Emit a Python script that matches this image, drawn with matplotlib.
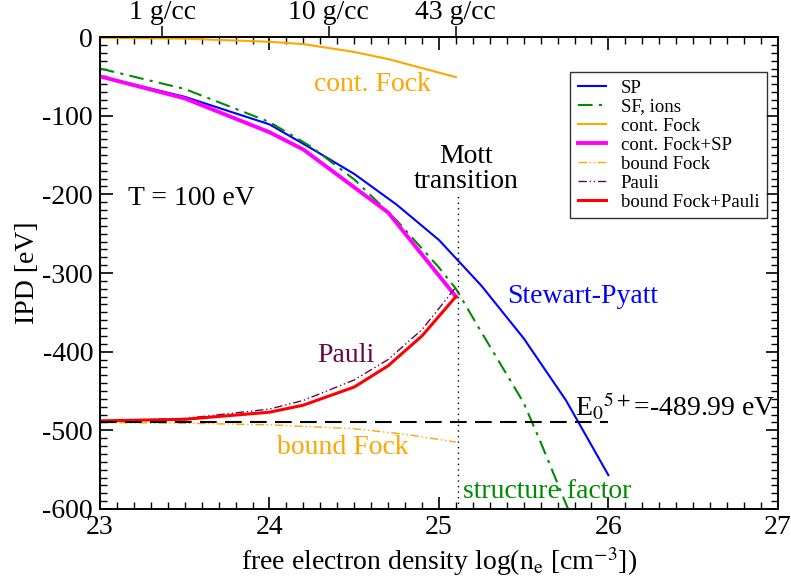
import matplotlib
matplotlib.use("Agg")
import matplotlib.pyplot as plt
from matplotlib.ticker import MultipleLocator, NullLocator

plt.rcParams['font.family'] = ['Liberation Serif', 'DejaVu Serif']
plt.rcParams['mathtext.fontset'] = 'stix'
plt.rcParams['axes.unicode_minus'] = False

# --- data ---
sp_x = [23.0, 23.5, 24.0, 24.25, 24.5, 24.75, 25.0, 25.25, 25.5, 25.75, 26.0]
sp_y = [-50, -76, -111, -142, -174, -213, -258, -316, -383, -462, -557]

sf_x = [23.0, 23.5, 24.0, 24.25, 24.5, 24.75, 25.0, 25.1, 25.25, 25.5, 25.6, 25.8]
sf_y = [-40, -66, -108, -140, -181, -233, -293, -320, -375, -465, -515, -620]

cf_x = [23.0, 23.5, 24.0, 24.2, 24.5, 24.7, 25.1]
cf_y = [-1, -2, -6, -9, -19, -28, -51]

cfsp_x = [23.0, 23.5, 24.0, 24.2, 24.7, 25.1]
cfsp_y = [-50, -78, -121, -143, -223, -330]

bf_x = [23.0, 23.5, 24.0, 24.5, 24.8, 25.1]
bf_y = [-490, -491, -493, -498, -505, -515]

pauli_x = [23.0, 23.5, 24.0, 24.2, 24.5, 24.7, 24.9, 25.1]
pauli_y = [-488, -485, -473, -462, -436, -410, -372, -318]

bfp_x = [23.0, 23.5, 24.0, 24.2, 24.5, 24.7, 24.9, 25.1]
bfp_y = [-488, -486, -477, -468, -445, -418, -380, -330]

E0 = -489.99
mott_x = 25.11

dens_pos = [23.366, 24.35, 25.10]
dens_labels = ['1 g/cc', '10 g/cc', '43 g/cc']

green = '#008b00'
orange = '#ffa500'
maroon = '#670748'

fig = plt.figure(figsize=(7.91, 5.88), dpi=100)
ax = fig.add_axes([0.1264, 0.1344, 0.857, 0.8026])

ax.plot(sp_x, sp_y, color='#0000ff', lw=1.5, label='SP')
ax.plot(sf_x, sf_y, color=green, lw=1.5, dashes=[7, 3, 1.5, 3], label='SF, ions')
ax.plot(cf_x, cf_y, color=orange, lw=1.5, label='cont. Fock')
ax.plot(cfsp_x, cfsp_y, color='#ff00ff', lw=2.8, label='cont. Fock+SP')
ax.plot(bf_x, bf_y, color=orange, lw=1.0, dashes=[6, 2, 1, 2, 1, 2], label='bound Fock')
ax.plot(pauli_x, pauli_y, color=maroon, lw=1.0, dashes=[6, 2, 1, 2, 1, 2], label='Pauli')
ax.plot(bfp_x, bfp_y, color='#ff0000', lw=2.2, label='bound Fock+Pauli')

ax.plot([23.0, 26.0], [E0, E0], color='black', lw=1.5, dashes=[8, 4])
ax.plot([mott_x, mott_x], [-600, -200], color='black', lw=1.0, dashes=[1, 3])

ax.set_xlim(23, 27)
ax.set_ylim(-600, 0)
ax.set_xlabel('free electron density log(n$_\\mathrm{e}$ [cm$^{-3}$])', fontsize=20, labelpad=4)
ax.set_ylabel('IPD [eV]', fontsize=20, labelpad=2)

# top density axis (twiny resets the top ticks of ax, so style ax afterwards)
top = ax.twiny()
top.set_xlim(ax.get_xlim())
top.set_xticks(dens_pos)
top.set_xticklabels(dens_labels)
top.xaxis.set_minor_locator(NullLocator())
top.tick_params(axis='x', which='major', direction='out', length=8, width=1.1,
                labelsize=20, pad=1, top=True, bottom=False)
for s in top.spines.values():
    s.set_linewidth(1.2)

ax.xaxis.set_major_locator(MultipleLocator(1))
ax.xaxis.set_minor_locator(MultipleLocator(0.1))
ax.yaxis.set_major_locator(MultipleLocator(100))
ax.yaxis.set_minor_locator(MultipleLocator(10))
ax.tick_params(axis='both', which='major', direction='in', top=True, right=True,
               labeltop=False, length=9, width=1.2, labelsize=20)
ax.tick_params(axis='both', which='minor', direction='in', top=True, right=True,
               length=5, width=1.0)
ax.tick_params(axis='x', which='major', pad=4)
ax.tick_params(axis='y', which='major', pad=5)
for s in ax.spines.values():
    s.set_linewidth(1.2)

# annotations
ax.text(24.61, -60, 'cont. Fock', color=orange, fontsize=20, ha='center', va='center')
ax.text(23.54, -205, 'T = 100 eV', color='black', fontsize=20, ha='center', va='center')
ax.text(25.16, -200, 'Mott\ntransition', color='black', fontsize=20, ha='center', va='bottom',
        linespacing=1.0)
ax.text(25.85, -330, 'Stewart-Pyatt', color='#0000ff', fontsize=20, ha='center', va='center')
ax.text(24.45, -405, 'Pauli', color=maroon, fontsize=20, ha='center', va='center')
ax.text(24.43, -522, 'bound Fock', color=orange, fontsize=20, ha='center', va='center')
ax.text(25.64, -578, 'structure factor', color=green, fontsize=20, ha='center', va='center')
ax.text(25.8, -470, 'E$_{0}$$^{5+}$=-489.99 eV', color='black', fontsize=20, ha='left', va='center')

leg = ax.legend(loc='upper right', bbox_to_anchor=(0.984, 0.926), fontsize=13.5,
                frameon=True, fancybox=False, handlelength=1.5, borderpad=0.4,
                labelspacing=0.1, handletextpad=0.8, borderaxespad=0)
leg.get_frame().set_edgecolor('black')
leg.get_frame().set_linewidth(1.0)

fig.savefig('out.png', dpi=100)
